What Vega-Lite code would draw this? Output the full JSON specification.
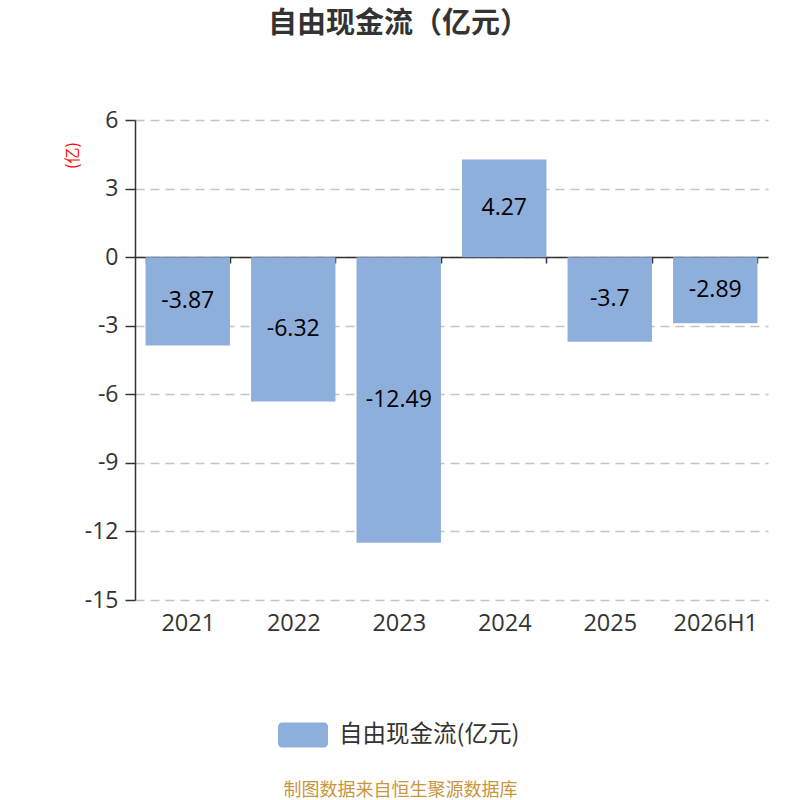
{
  "$schema": "https://vega.github.io/schema/vega-lite/v6.json",
  "width": 633,
  "height": 480,
  "autosize": {"type": "none"},
  "padding": {"left": 135, "top": 120, "right": 32, "bottom": 200},
  "background": "white",
  "config": {"font": "Open Sans, Noto Sans CJK SC", "view": {"stroke": null}},
  "title": {"text": "自由现金流（亿元）", "font": "Noto Sans CJK SC", "anchor": "start", "frame": "group", "dx": 133, "offset": 70, "fontSize": 29, "fontWeight": "bold", "color": "#333"},
  "data": {"values": [
    {"year": "2021", "value": -3.87},
    {"year": "2022", "value": -6.32},
    {"year": "2023", "value": -12.49},
    {"year": "2024", "value": 4.27},
    {"year": "2025", "value": -3.7},
    {"year": "2026H1", "value": -2.89}
  ]},
  "transform": [{"calculate": "datum.value/2", "as": "mid"}],
  "encoding": {
    "x": {"field": "year", "type": "nominal", "sort": null, "title": "制图数据来自恒生聚源数据库",
      "scale": {"paddingInner": 0.2, "paddingOuter": 0.1},
      "axis": {"titleColor": "#c8963e", "titleFont": "Noto Sans CJK SC", "titleFontSize": 18, "titleFontWeight": "normal", "titleX": 265, "titleY": 533, "titleAlign": "center", "titleBaseline": "middle",
        "offset": -343, "labelFontSize": 23.5, "labelColor": "#333", "labelPadding": 348, "labelAngle": 0,
        "tickBand": "extent", "tickSize": 6, "tickColor": "#333", "tickWidth": 1.5,
        "domainColor": "#333", "domainWidth": 1.5, "grid": false}}
  },
  "layer": [
    {
      "mark": {"type": "bar", "color": "#8eaedb"},
      "encoding": {
        "y": {"field": "value", "type": "quantitative", "title": "(亿)",
          "scale": {"domain": [-15, 6], "nice": false, "zero": false},
          "axis": {"titleColor": "red", "titleFont": "Noto Sans CJK SC", "titleFontSize": 16, "titleFontWeight": "normal", "titleAngle": -90, "titleX": -63, "titleY": 35, "titleAlign": "center", "titleBaseline": "middle",
            "values": [-15, -12, -9, -6, -3, 0, 3, 6], "labelExpr": "replace(datum.label, '−', '-')", "labelFontSize": 23, "labelColor": "#333", "labelPadding": 7,
            "tickSize": 10, "tickColor": "#333", "tickWidth": 1.5, "domainColor": "#333", "domainWidth": 1.5,
            "grid": true, "gridDash": [9, 6], "gridColor": "#c4c4c4", "gridWidth": 1.5}},
        "color": {"datum": "自由现金流(亿元)", "scale": {"range": ["#8eaedb"]},
          "legend": {"orient": "none", "legendX": 143, "legendY": 590, "title": null,
            "symbolType": "M-0.84,-0.5H0.84A0.16,0.16 0 0 1 1,-0.34V0.34A0.16,0.16 0 0 1 0.84,0.5H-0.84A0.16,0.16 0 0 1 -1,0.34V-0.34A0.16,0.16 0 0 1 -0.84,-0.5Z",
            "symbolSize": 2500, "symbolStrokeWidth": 0, "symbolOpacity": 1, "labelFont": "Noto Sans CJK SC", "labelFontSize": 23.5, "labelLimit": 500, "labelColor": "#333", "labelOffset": 11}}
      }
    },
    {
      "mark": {"type": "text", "fontSize": 23, "color": "#000"},
      "encoding": {
        "y": {"field": "mid", "type": "quantitative", "title": "(亿)"},
        "text": {"field": "value", "type": "nominal"}
      }
    }
  ]
}
